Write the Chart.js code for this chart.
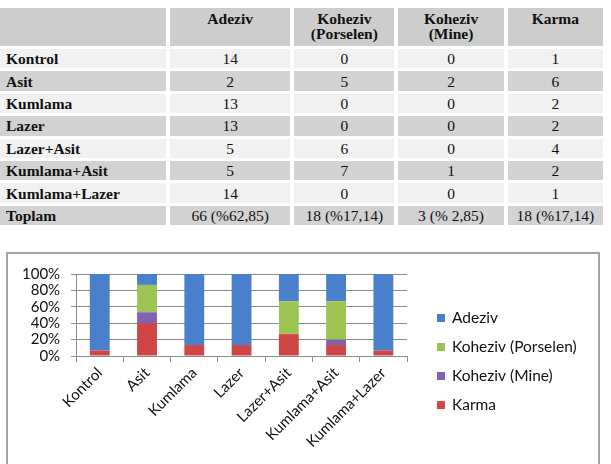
<!DOCTYPE html>
<html><head><meta charset="utf-8">
<script src="https://cdn.jsdelivr.net/npm/chart.js@4"></script>
<style>
html,body{margin:0;padding:0;background:#fff;width:611px;height:464px;overflow:hidden;position:relative;}
#tbl{position:absolute;left:-4px;top:5px;border-collapse:separate;border-spacing:4px 3px;table-layout:fixed;font-family:"Liberation Serif","Times New Roman",serif;font-size:15.5px;color:#111;}
#tbl td,#tbl th{padding:0;text-align:center;height:19.4px;line-height:19px;white-space:nowrap;}
#tbl th{background:#cdcdcd;vertical-align:top;height:38px;line-height:15px;padding-top:3px;box-sizing:border-box;font-weight:bold;}
#tbl td.lab{text-align:left;padding-left:6px;font-weight:bold;}
#tbl tr.l td{background:#f1f1f1;}
#tbl tr.d td{background:#d2d2d2;}
#box{position:absolute;left:6px;top:252px;width:594px;height:240px;border:2px solid #a3a3a3;box-sizing:border-box;}
#cv{position:absolute;left:0;top:0;}
</style></head>
<body>
<table id="tbl">
<colgroup><col style="width:168px"><col style="width:122px"><col style="width:101px"><col style="width:107px"><col style="width:96px"></colgroup>
<thead><tr id="hdr"></tr></thead><tbody id="tb"></tbody></table>
<div id="box"><canvas id="cv" width="590" height="236"></canvas></div>
<script>
const categories = ["Kontrol","Asit","Kumlama","Lazer","Lazer+Asit","Kumlama+Asit","Kumlama+Lazer"];
const headers = ["Adeziv","Koheziv<br>(Porselen)","Koheziv<br>(Mine)","Karma"];
const seriesNames = ["Adeziv","Koheziv (Porselen)","Koheziv (Mine)","Karma"];
const adeziv   = [14, 2, 13, 13, 5, 5, 14];
const porselen = [0, 5, 0, 0, 6, 7, 0];
const mine     = [0, 2, 0, 0, 0, 1, 0];
const karma    = [1, 6, 2, 2, 4, 2, 1];
const totalLabel = "Toplam";
const totals = ["66 (%62,85)","18 (%17,14)","3 (% 2,85)","18 (%17,14)"];
const yTicks = [0,20,40,60,80,100];
const colors = {adeziv:"#4a7fcc", porselen:"#9bc452", mine:"#7f62b2", karma:"#d04545"};

// table
const hdr = document.getElementById('hdr');
hdr.innerHTML = '<th></th>' + headers.map(h=>'<th>'+h+'</th>').join('');
const tb = document.getElementById('tb');
let html = '';
categories.forEach((c,i)=>{
  html += '<tr class="'+(i%2===0?'l':'d')+'"><td class="lab">'+c+'</td><td>'+adeziv[i]+'</td><td>'+porselen[i]+'</td><td>'+mine[i]+'</td><td>'+karma[i]+'</td></tr>';
});
html += '<tr class="d"><td class="lab">'+totalLabel+'</td>'+totals.map(t=>'<td>'+t+'</td>').join('')+'</tr>';
tb.innerHTML = html;

// chart (100% stacked)
const sums = categories.map((_,i)=>adeziv[i]+porselen[i]+mine[i]+karma[i]);
const pct = arr => arr.map((v,i)=>v/sums[i]*100);
const fam = "Lato, 'Open Sans', sans-serif";

const sideLegend = {
  id:'sideLegend',
  afterDraw(chart){
    const ctx = chart.ctx, ca = chart.chartArea;
    const items = chart.data.datasets.slice().reverse();
    ctx.save();
    ctx.font = '15.5px ' + fam;
    ctx.textBaseline = 'middle';
    ctx.textAlign = 'left';
    items.forEach((d,i)=>{
      const y = ca.top + 44 + i*29;
      const x = ca.right + 30;
      ctx.fillStyle = d.backgroundColor;
      ctx.fillRect(x, y-4, 8, 8);
      ctx.fillStyle = '#111';
      ctx.fillText(d.label, x + 15, y);
    });
    ctx.restore();
  }
};

new Chart(document.getElementById('cv'), {
  type:'bar',
  data:{
    labels:categories,
    datasets:[
      {label:seriesNames[3], data:pct(karma), backgroundColor:colors.karma},
      {label:seriesNames[2], data:pct(mine), backgroundColor:colors.mine},
      {label:seriesNames[1], data:pct(porselen), backgroundColor:colors.porselen},
      {label:seriesNames[0], data:pct(adeziv), backgroundColor:colors.adeziv}
    ]
  },
  plugins:[sideLegend],
  options:{
    responsive:false, animation:false,
    devicePixelRatio:1,
    datasets:{bar:{barPercentage:0.42, categoryPercentage:1}},
    layout:{padding:{top:10,left:3,right:191,bottom:42}},
    plugins:{
      legend:{display:false},
      tooltip:{enabled:false}
    },
    scales:{
      x:{stacked:true,
        grid:{display:true, drawOnChartArea:false, drawTicks:true, tickLength:6, color:'#8a8a8a'},
        border:{color:'#8a8a8a'},
        ticks:{maxRotation:45, minRotation:45, autoSkip:false, color:'#111', font:{family:fam,size:15}, padding:2}
      },
      y:{stacked:true, min:0, max:100,
        afterBuildTicks:s=>{s.ticks = yTicks.map(v=>({value:v}));},
        grid:{color:'#8a8a8a', tickLength:5},
        border:{color:'#8a8a8a'},
        ticks:{autoSkip:false, callback:v=>v+'%', color:'#111', font:{family:fam,size:15}, padding:11}
      }
    }
  }
});
</script>
</body></html>
